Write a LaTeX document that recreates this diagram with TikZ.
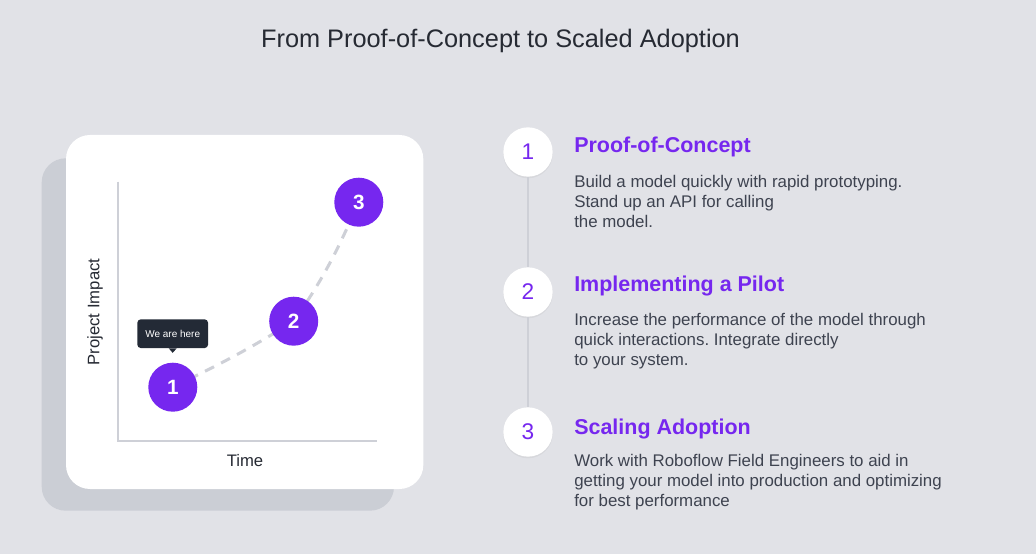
\documentclass[tikz,border=0pt]{standalone}
\usepackage{fontspec}
\setmainfont{Liberation Sans}
\frenchspacing
\usetikzlibrary{positioning,shadows,calc}

\definecolor{canvas}{HTML}{E1E2E7}
\definecolor{cardshade}{HTML}{CBCED5}
\definecolor{axisgray}{HTML}{CED0D7}
\definecolor{purp}{HTML}{7627EF}
\definecolor{ink}{HTML}{262A33}
\definecolor{bodyink}{HTML}{3E4350}
\definecolor{tipdark}{HTML}{232A36}

\begin{document}
\begin{tikzpicture}[
  x=0.75pt, y=0.75pt,
  stage/.style    ={circle, fill=purp, text=white, minimum size=36.75pt, inner sep=0pt,
                    font=\fontsize{15.5}{18}\selectfont\bfseries},
  milestone/.style={circle, fill=white, text=purp, minimum size=37pt, inner sep=0pt,
                    font=\fontsize{17}{18}\selectfont,
                    drop shadow={opacity=0.10, shadow xshift=0pt, shadow yshift=-1.2pt}},
  head/.style     ={anchor=base west, inner sep=0pt, text=purp, font=\fontsize{16.1}{19}\selectfont\bfseries},
  body/.style     ={anchor=north west, inner sep=0pt, align=left, text=bodyink,
                    font=\fontsize{12.65}{15}\selectfont},
  axislbl/.style  ={text=ink, font=\fontsize{12.5}{14}\selectfont},
  tip/.style      ={fill=tipdark, text=white, rounded corners=2.5pt, minimum width=53pt,
                    minimum height=21.5pt, inner sep=0pt, font=\fontsize{7.5}{9}\selectfont},
  axis/.style     ={axisgray, line width=1.5pt},
  trend/.style    ={axisgray, line width=2.25pt, dash pattern=on 7.5pt off 6pt},
  rail/.style     ={axisgray, line width=1.5pt}
]

\useasboundingbox[fill=canvas] (0,0) rectangle (1036,554);

% ---- Title ------------------------------------------------------------------
\node[anchor=base, text=ink, font=\fontsize{19}{22}\selectfont] (title) at (500.5,506.7)
  {From Proof-of-Concept to Scaled Adoption};

% ---- Chart card -------------------------------------------------------------
\fill[cardshade, rounded corners=18pt] (41.7,43.3) rectangle (394,395.7);
\fill[white, rounded corners=18pt] (66,65) rectangle (423.3,419);

\coordinate (origin) at (117.7,113);
\coordinate (ytop)   at (117.7,372.3);
\coordinate (xend)   at (377.3,113);
\draw[axis] (ytop) -- (origin) -- (xend);

\node[axislbl, rotate=90] (impact) at (95,242) {Project Impact};
\node[axislbl, anchor=base] (time) at (245,87.3) {Time};

% ---- Growth curve through the three stages ----------------------------------
\coordinate (p1) at (172.8,166.8);
\coordinate (p2) at (293.7,232.8);
\coordinate (p3) at (358.8,351.8);
\draw[trend] (p1) to[out=26,in=212] (p2) to[out=55,in=246] (p3);

\node[stage] (s1) at (p1) {1};
\node[stage] (s2) at (p2) {2};
\node[stage] (s3) at (p3) {3};

% ---- "We are here" marker ---------------------------------------------------
\node[tip] (here) at (172.7,220.3) {We are here};
\fill[tipdark] ([xshift=-3pt]here.south) -- ([xshift=3pt]here.south) -- ([yshift=-3.4pt]here.south) -- cycle;

% ---- Steps column -----------------------------------------------------------
\node[milestone] (m1) at (528,402) {1};
\node[milestone] (m2) at (528,262) {2};
\node[milestone] (m3) at (528,122) {3};
\draw[rail] (m1) -- (m2);
\draw[rail] (m2) -- (m3);

\node[head] (h1) at (574,401)   {Proof-of-Concept};
\node[head] (h2) at (574,262.3) {Implementing a Pilot};
\node[head] (h3) at (574,119.7) {Scaling Adoption};

\node[body] (b1) at (574,379.1) {Build a model quickly with rapid prototyping.\\Stand up an API for calling\\the model.};
\node[body] (b2) at (574,240.8) {Increase the performance of the model through\\quick interactions. Integrate directly\\to your system.};
\node[body] (b3) at (574,100.1) {Work with Roboflow Field Engineers to aid in\\getting your model into production and optimizing\\for best performance};

\end{tikzpicture}
\end{document}
